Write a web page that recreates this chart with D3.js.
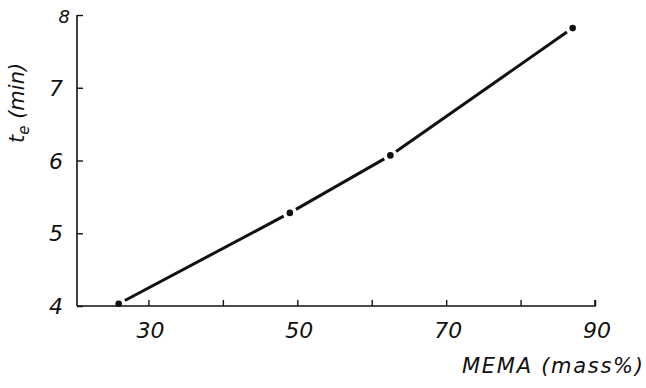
<!DOCTYPE html>
<html>
<head>
<meta charset="utf-8">
<script src="https://cdn.jsdelivr.net/npm/d3@7"></script>
<style>
  body { margin: 0; background: #fff; }
  svg { display: block; }
  text { font-family: "DejaVu Sans", sans-serif; font-style: italic; fill: #111; }
</style>
</head>
<body>
<svg width="646" height="388"></svg>
<script>
// Data
const mema = [26, 49, 62.5, 87];
const te = [4.03, 5.28, 6.07, 7.82];
const xTicks = [30, 40, 50, 60, 70, 80, 90];
const xLabels = [30, 50, 70, 90];
const yTicks = [4, 5, 6, 7, 8];

const svg = d3.select("svg");

// Scales
const x = d3.scaleLinear().domain([20.4, 90]).range([77, 595]);
const y = d3.scaleLinear().domain([4, 8]).range([306, 15]);

const ink = "#111";

// X axis: ticks point up (inside)
const xAxis = d3.axisTop(x)
    .tickValues(xTicks)
    .tickSize(6)
    .tickFormat("");
const gx = svg.append("g")
    .attr("transform", `translate(0,${y(4)})`)
    .call(xAxis);
gx.select(".domain").attr("d", `M${x(20.4)},0H${x(90)}V-6`).attr("stroke", ink).attr("stroke-width", 1.6);
gx.selectAll(".tick line").attr("stroke", ink).attr("stroke-width", 1.4);

// Y axis: ticks point right (inside)
const yAxis = d3.axisRight(y)
    .tickValues(yTicks)
    .tickSize(6)
    .tickFormat("");
const gy = svg.append("g")
    .attr("transform", `translate(${x(20.4)},0)`)
    .call(yAxis);
gy.select(".domain").attr("d", `M0,${y(4)}V${y(8)}`).attr("stroke", ink).attr("stroke-width", 1.6);
gy.selectAll(".tick line").attr("stroke", ink).attr("stroke-width", 1.4);

// Tick labels
svg.selectAll(".xlab")
    .data(xLabels)
    .enter()
    .append("text")
    .attr("class", "xlab")
    .attr("x", d => x(d) + 2)
    .attr("y", 338)
    .attr("text-anchor", "middle")
    .attr("font-size", 22)
    .text(d => d);

svg.selectAll(".ylab")
    .data(yTicks)
    .enter()
    .append("text")
    .attr("class", "ylab")
    .attr("x", d => d === 8 ? 70 : 63)
    .attr("y", d => d === 8 ? y(d) + 8 : y(d) + 8)
    .attr("text-anchor", "end")
    .attr("font-size", d => d === 8 ? 18 : 22)
    .text(d => d);

// Axis titles
svg.append("text")
    .attr("x", 462)
    .attr("y", 373)
    .attr("font-size", 21)
    .attr("textLength", 181)
    .text("MEMA (mass%)");

const yt = svg.append("text")
    .attr("transform", "translate(24,143) rotate(-90)")
    .attr("font-size", 21);
yt.append("tspan").text("t");
yt.append("tspan").attr("dy", 5).attr("font-size", 15).text("e");
yt.append("tspan").attr("dy", -5).text(" (min)");

// Line segments with gaps at the points
const pts = mema.map((m, i) => [x(m), y(te[i])]);
const gap = 7;
const segs = d3.pairs(pts).map(([a, b]) => {
    const dx = b[0] - a[0], dy = b[1] - a[1];
    const len = Math.hypot(dx, dy);
    const ux = dx / len, uy = dy / len;
    return [a[0] + ux * gap, a[1] + uy * gap, b[0] - ux * gap, b[1] - uy * gap];
});
svg.selectAll(".seg")
    .data(segs)
    .enter()
    .append("line")
    .attr("class", "seg")
    .attr("x1", d => d[0]).attr("y1", d => d[1])
    .attr("x2", d => d[2]).attr("y2", d => d[3])
    .attr("stroke", ink)
    .attr("stroke-width", 3);

svg.selectAll(".dot")
    .data(pts)
    .enter()
    .append("circle")
    .attr("class", "dot")
    .attr("cx", d => d[0])
    .attr("cy", d => d[1])
    .attr("r", 3.3)
    .attr("fill", ink);
</script>
</body>
</html>
